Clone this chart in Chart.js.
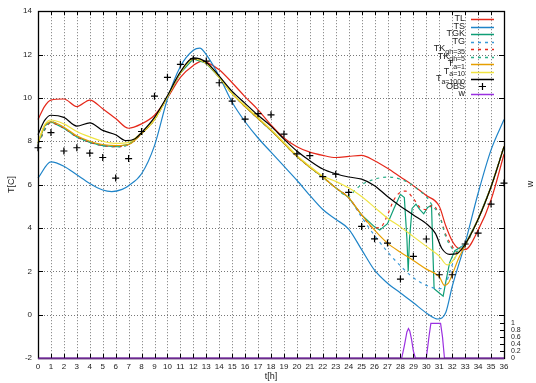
<!DOCTYPE html>
<html>
<head>
<meta charset="utf-8">
<script src="https://cdn.jsdelivr.net/npm/chart.js@4.4.1/dist/chart.umd.min.js"></script>
<style>
  html, body { margin: 0; padding: 0; background: #fff; }
</style>
</head>
<body>
<canvas id="chart" width="536" height="383"></canvas>
<script>
// values (hours, degrees C)
const tlHours = [0,0.5,1,2,3,4,5,6,7,8,9,10,11,12,12.7,13,14,15,16,17,18,19,20,21,22,23,24,25,26,27,28,29,30,31,31.5,32,32.5,33,34,35,36];
const tlTemp  = [9.0,9.6,9.9,9.95,9.6,9.9,9.5,9.05,8.6,8.8,9.2,10.0,10.95,11.5,11.7,11.65,11.3,10.7,10.05,9.45,8.75,8.15,7.75,7.5,7.35,7.25,7.3,7.35,7.1,6.75,6.35,5.95,5.5,5.0,4.1,3.4,3.05,3.0,3.9,5.3,7.4];

const tsHours = [0,1,2,3,4,5,5.7,6.5,7,8,9,10,11,12,12.5,13,14,15,16,17,18,19,20,21,22,23,24,25,26,27,28,29,30,30.9,31.5,32,33,34,35,36];
const tsTemp  = [6.3,7.05,6.85,6.45,6.05,5.75,5.68,5.78,5.95,6.5,7.8,9.95,11.45,12.2,12.3,12.0,11.0,9.8,8.9,8.15,7.5,6.85,6.2,5.5,4.85,4.4,3.95,3.0,2.05,1.45,1.0,0.55,0.08,-0.2,0.1,1.3,3.3,5.6,7.6,9.0];

const tgkHours = [0,0.5,1,2,3,4,5,6,7,8,9,10,11,12,13,14,15,16,17,18,19,20,21,22,23,24,25,26,26.4,27,27.5,28,28.3,28.5,28.6,28.7,28.9,29.2,29.5,29.8,30.1,30.4,30.5,30.6,31.0,31.3,31.5,31.8,32.2,32.6,33,34,35,36];
const tgkTemp  = [7.9,8.7,8.9,8.6,8.2,7.95,7.8,7.75,7.85,8.35,9.0,10.05,11.15,11.8,11.6,10.95,10.2,9.6,9.05,8.5,7.9,7.3,6.8,6.35,5.85,5.4,4.6,4.05,3.9,4.2,4.9,5.55,5.4,3.5,2.0,3.5,4.9,5.1,4.85,4.65,4.95,5.05,3.0,1.2,1.0,0.85,1.5,2.4,2.95,3.1,3.25,4.4,5.9,7.75];

const tgHours = [0,1,2,3,4,5,6,7,8,9,10,11,12,13,14,15,16,17,18,19,20,21,22,23,24,25,26,27,28,29,30,31,31.4,32,32.5,33,34,35,36];
const tgTemp  = [7.9,8.9,8.6,8.2,7.95,7.8,7.75,7.85,8.35,9.0,10.05,11.15,11.8,11.6,10.95,10.2,9.6,9.05,8.5,7.9,7.3,6.8,6.35,5.85,5.4,4.5,3.65,2.9,2.25,1.7,1.35,1.2,1.3,2.3,3.0,3.25,4.4,5.9,7.75];

const tk35Hours = [0,1,2,3,4,5,6,7,8,9,10,11,12,13,14,15,16,17,18,19,20,21,22,23,24,25,26,26.5,27,27.5,28,28.4,29,29.5,30,30.5,31,31.5,32,32.4,33,34,35,36];
const tk35Temp  = [7.9,8.85,8.6,8.2,7.95,7.8,7.75,7.85,8.35,9.0,10.05,11.15,11.8,11.6,10.95,10.2,9.6,9.05,8.5,7.9,7.3,6.8,6.35,5.85,5.4,4.6,4.0,4.05,4.6,5.3,5.65,5.7,5.35,4.95,4.85,5.05,4.6,3.7,3.15,2.85,3.2,4.4,5.9,7.75];

const tk5Hours = [0,1,2,3,4,5,6,7,8,9,10,11,12,13,14,15,16,17,18,19,20,21,22,23,24,24.5,25,26,27,28,29,29.5,30,30.5,31,31.5,32,32.4,33,34,35,36];
const tk5Temp  = [7.9,8.9,8.6,8.2,7.95,7.8,7.75,7.85,8.35,9.0,10.05,11.15,11.8,11.6,10.95,10.2,9.6,9.05,8.5,7.9,7.3,6.8,6.35,5.85,5.45,5.75,6.0,6.25,6.35,6.25,5.95,5.7,5.45,5.0,4.6,3.6,3.05,2.9,3.2,4.4,5.9,7.75];

const a1Hours = [0,0.5,1,2,3,4,5,6,7,8,9,10,11,12,13,14,15,16,17,18,19,20,21,22,23,24,25,26,27,28,29,30,31,31.4,31.7,32,32.5,33,34,35,36];
const a1Temp  = [7.9,8.7,8.9,8.65,8.25,8.0,7.85,7.8,7.85,8.35,9.0,10.05,11.15,11.8,11.6,10.95,10.2,9.6,9.05,8.5,7.9,7.3,6.8,6.35,5.85,5.4,4.6,3.9,3.3,2.88,2.5,2.1,1.75,1.35,1.45,1.85,2.6,3.2,4.4,5.9,7.75];

const a10Hours = [0,0.5,1,2,3,4,5,6,7,8,9,10,11,12,13,14,15,16,17,18,19,20,21,22,23,24,25,26,27,28,29,30,31,31.6,32,32.5,33,34,35,36];
const a10Temp  = [7.95,8.75,8.98,8.8,8.45,8.2,8.0,7.9,7.95,8.4,9.0,10.05,11.15,11.8,11.6,10.95,10.2,9.65,9.1,8.55,7.95,7.35,6.85,6.4,6.15,5.85,5.45,4.95,4.45,4.05,3.6,3.15,2.7,2.3,2.45,2.9,3.25,4.4,5.9,7.75];

const a1000Hours = [0,0.5,1,2,3,4,5,6,6.8,7.5,8,9,10,11,12,13,14,15,16,17,18,19,20,21,22,23,24,25,26,27,28,29,30,30.7,31.2,31.8,32.3,33,34,35,36];
const a1000Temp  = [8.3,8.95,9.2,9.1,8.7,8.85,8.5,8.3,8.03,8.12,8.4,9.1,10.1,11.2,11.85,11.65,11.0,10.3,9.75,9.2,8.7,8.1,7.55,7.1,6.72,6.5,6.35,6.25,5.95,5.45,5.0,4.6,4.2,3.75,3.05,2.78,2.8,3.25,4.4,5.9,7.75];

const obsHours = [0,1,2,3,4,5,6,7,8,9,10,11,12,13,14,15,16,17,18,19,20,21,22,23,24,25,26,27,28,29,30,31,32,33,34,35,36];
const obsTemp  = [7.7,8.4,7.55,7.7,7.45,7.25,6.3,7.2,8.45,10.08,10.95,11.55,11.8,11.7,10.7,9.85,9.02,9.27,9.22,8.33,7.42,7.34,6.37,6.48,5.64,4.07,3.5,3.3,1.64,2.69,3.49,1.84,1.84,3.26,3.76,5.1,6.07];

const wHours = [0,28.1,28.3,28.5,28.62,28.72,28.85,29.0,29.15,30.0,30.2,30.35,31.1,31.25,31.4,36];
const wValue = [0,0,0.35,0.75,0.85,0.78,0.55,0.2,0,0,0.6,1,1,0.6,0,0];

const xTicks = [...Array(37).keys()];
const yTicks = [-2,0,2,4,6,8,10,12,14];
const y2Ticks = [0,0.2,0.4,0.6,0.8,1];

const labels = ['TL','TS','TGK','TG','TK_{gh=35}','TK_{gh=5}','T_{a=1}','T_{a=10}','T_{a=1000}','OBS','w'];

const FONT = '"Liberation Sans", Arial, sans-serif';
Chart.defaults.font.family = FONT;

function pts(ts, vs) { return ts.map((t, i) => ({ x: t, y: vs[i] })); }

const series = [
  { data: pts(tlHours, tlTemp), color: '#e5281a' },
  { data: pts(tsHours, tsTemp), color: '#1f84c8' },
  { data: pts(tgkHours, tgkTemp), color: '#0f9e76', sharp: true },
  { data: pts(tgHours, tgTemp), color: '#3a9ad8', dash: [3, 4] },
  { data: pts(tk35Hours, tk35Temp), color: '#e5281a', dash: [3, 4] },
  { data: pts(tk5Hours, tk5Temp), color: '#2aae88', dash: [3, 4] },
  { data: pts(a1Hours, a1Temp), color: '#e69f00' },
  { data: pts(a10Hours, a10Temp), color: '#f0e442' },
  { data: pts(a1000Hours, a1000Temp), color: '#000000' },
  { data: pts(obsHours, obsTemp), color: '#000000', points: true },
  { data: pts(wHours, wValue), color: '#9b30e0', sharp: true, axis: 'y2' }
];

const datasets = series.map((s, i) => ({
  label: labels[i],
  data: s.data,
  yAxisID: s.axis || 'y',
  borderColor: s.color,
  backgroundColor: s.color,
  borderWidth: s.points ? 1 : 1.2,
  borderDash: s.dash || [],
  showLine: !s.points,
  pointStyle: 'cross',
  pointRadius: s.points ? 3.5 : 0,
  pointBorderWidth: 1.2,
  cubicInterpolationMode: s.sharp ? 'default' : 'monotone',
  tension: 0,
  clip: s.points ? false : 2,
  order: series.length - i
}));

function drawLabel(ctx, text, xRight, yMid) {
  const m = text.match(/^(.*?)_\{(.*)\}$/);
  const main = m ? m[1] : text;
  const sub = m ? m[2] : '';
  ctx.font = '9px ' + FONT;
  const wMain = ctx.measureText(main).width;
  ctx.font = '7px ' + FONT;
  const wSub = sub ? ctx.measureText(sub).width : 0;
  const x0 = xRight - wMain - wSub;
  ctx.textAlign = 'left';
  ctx.textBaseline = 'middle';
  ctx.font = '9px ' + FONT;
  ctx.fillText(main, x0, yMid);
  if (sub) {
    ctx.font = '7px ' + FONT;
    ctx.fillText(sub, x0 + wMain, yMid + 3);
  }
}

const gnuplotFrame = {
  id: 'gnuplotFrame',
  beforeDatasetsDraw(chart) {
    const { ctx, chartArea: a, scales: { x, y } } = chart;
    ctx.save();
    ctx.strokeStyle = '#777';
    ctx.lineWidth = 1;
    ctx.setLineDash([1, 2]);
    xTicks.forEach(t => {
      const px = Math.round(x.getPixelForValue(t)) + 0.5;
      ctx.beginPath(); ctx.moveTo(px, a.top); ctx.lineTo(px, a.bottom); ctx.stroke();
    });
    yTicks.forEach(v => {
      const py = Math.round(y.getPixelForValue(v)) + 0.5;
      ctx.beginPath(); ctx.moveTo(a.left, py); ctx.lineTo(a.right, py); ctx.stroke();
    });
    ctx.restore();
  },
  afterDatasetsDraw(chart) {
    const { ctx, chartArea: a, scales: { x, y, y2 } } = chart;
    ctx.save();
    ctx.strokeStyle = '#000';
    ctx.lineWidth = 1;
    ctx.setLineDash([]);
    ctx.beginPath();
    xTicks.forEach(t => {
      const px = Math.round(x.getPixelForValue(t)) + 0.5;
      ctx.moveTo(px, a.bottom); ctx.lineTo(px, a.bottom - 4);
      ctx.moveTo(px, a.top); ctx.lineTo(px, a.top + 4);
    });
    yTicks.forEach(v => {
      const py = Math.round(y.getPixelForValue(v)) + 0.5;
      ctx.moveTo(a.left, py); ctx.lineTo(a.left + 5, py);
      ctx.moveTo(a.right, py); ctx.lineTo(a.right - 5, py);
    });
    y2Ticks.forEach(v => {
      const py = Math.round(y2.getPixelForValue(v)) + 0.5;
      ctx.moveTo(a.right, py); ctx.lineTo(a.right - 4, py);
    });
    ctx.stroke();
    ctx.lineWidth = 1.3;
    ctx.strokeRect(Math.round(a.left) + 0.5, Math.round(a.top) + 0.5,
      Math.round(a.right - a.left), Math.round(a.bottom - a.top));
    // bottom edge is covered by the w series at zero
    ctx.strokeStyle = '#6a2a8a';
    ctx.beginPath();
    ctx.moveTo(a.left, Math.round(a.bottom) + 0.5); ctx.lineTo(a.right, Math.round(a.bottom) + 0.5);
    ctx.stroke();

    // axis titles
    ctx.fillStyle = '#222';
    ctx.font = '9px ' + FONT;
    ctx.textAlign = 'center';
    ctx.textBaseline = 'middle';
    ctx.fillText('t[h]', (a.left + a.right) / 2, 377);
    ctx.save();
    ctx.translate(12, (a.top + a.bottom) / 2);
    ctx.rotate(-Math.PI / 2);
    ctx.fillText('T[C]', 0, 0);
    ctx.restore();
    ctx.save();
    ctx.translate(531, 184);
    ctx.rotate(-Math.PI / 2);
    ctx.fillText('w', 0, 0);
    ctx.restore();

    // key, top right
    const textRight = 465, lineL = 471, lineR = 494;
    labels.forEach((lab, i) => {
      const yy = 19 + i * 7.5;
      const s = series[i];
      ctx.fillStyle = '#222';
      drawLabel(ctx, lab, textRight, yy);
      ctx.strokeStyle = s.color;
      if (s.points) {
        ctx.lineWidth = 1.2;
        ctx.setLineDash([]);
        ctx.beginPath();
        ctx.moveTo(482.5 - 3.5, yy); ctx.lineTo(482.5 + 3.5, yy);
        ctx.moveTo(482.5, yy - 3.5); ctx.lineTo(482.5, yy + 3.5);
        ctx.stroke();
      } else {
        ctx.lineWidth = 1.5;
        ctx.setLineDash(s.dash || []);
        ctx.beginPath();
        ctx.moveTo(lineL, Math.round(yy) + 0.5); ctx.lineTo(lineR, Math.round(yy) + 0.5);
        ctx.stroke();
      }
    });
    ctx.restore();
  }
};

new Chart(document.getElementById('chart'), {
  type: 'line',
  data: { datasets },
  options: {
    responsive: false,
    animation: false,
    devicePixelRatio: 1,
    layout: { padding: { top: 11, left: 0, right: 0, bottom: 0 } },
    plugins: { legend: { display: false }, tooltip: { enabled: false } },
    scales: {
      x: {
        type: 'linear', min: 0, max: 36,
        afterFit: s => { s.height = 25; },
        afterBuildTicks: s => { s.ticks = xTicks.map(v => ({ value: v })); },
        grid: { display: false, drawTicks: false },
        border: { display: false },
        ticks: { autoSkip: false, maxRotation: 0, padding: 4, color: '#222', font: { size: 8 } }
      },
      y: {
        position: 'left', min: -2, max: 14,
        afterFit: s => { s.width = 38; },
        afterBuildTicks: s => { s.ticks = yTicks.map(v => ({ value: v })); },
        grid: { display: false, drawTicks: false },
        border: { display: false },
        ticks: { padding: 6, color: '#222', font: { size: 8 } }
      },
      y2: {
        position: 'right', min: 0, max: 10,
        afterFit: s => { s.width = 32; },
        afterBuildTicks: s => { s.ticks = y2Ticks.map(v => ({ value: v })); },
        grid: { display: false, drawTicks: false },
        border: { display: false },
        ticks: { autoSkip: false, padding: 7, color: '#222', font: { size: 7 },
          callback: v => String(Math.round(v * 10) / 10) }
      }
    }
  },
  plugins: [gnuplotFrame]
});
</script>
</body>
</html>
